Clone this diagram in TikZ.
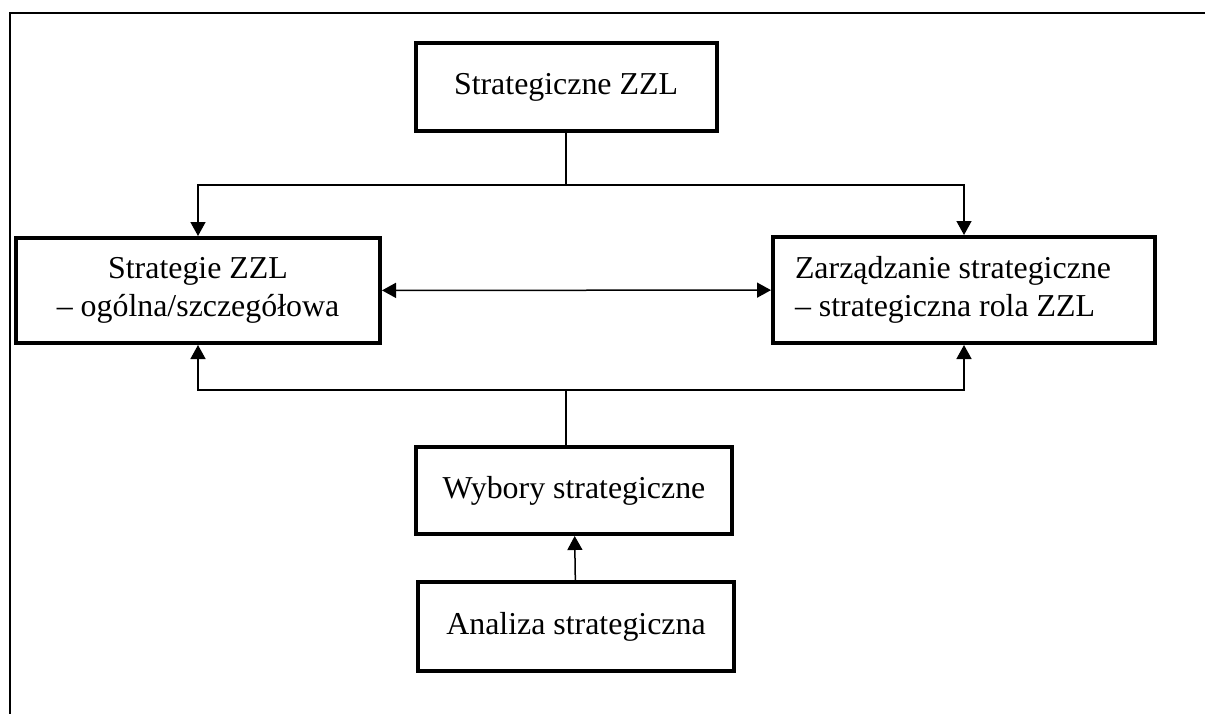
\documentclass[tikz,border=0pt]{standalone}
\usepackage{fontspec}
\setmainfont{Liberation Serif}
\usepackage{tikz}
\usetikzlibrary{arrows.meta,shapes}

\begin{document}
\begin{tikzpicture}[>={Triangle[length=7bp,width=7.5bp]}, every node/.style={font=\fontsize{16}{19}\selectfont},
  box/.style={draw, line width=2bp, inner sep=0pt, align=center},
  link/.style={line width=0.75bp}]
  \useasboundingbox (0bp, 0bp) rectangle (602.5bp, -357bp);
  % Frame
  \draw[line width=0.8bp] (5bp, -357bp) -- (5bp, -6.5bp) -- (602.5bp, -6.5bp);

  % Boxes
  \node (szzl) at (283bp, -43.5bp) [box, minimum width=150.5bp, minimum height=44bp] {Strategiczne ZZL};

  \node (strategie) at (99bp, -145.25bp) [box, minimum width=182bp, minimum height=52.5bp] {Strategie ZZL\\ -- ogólna/szczegółowa};
  \node (zarzadzanie) at (482bp, -145bp) [box, minimum height=53bp, text width=169bp, inner xsep=11bp, align=flush left] {Zarządzanie strategiczne\\ -- strategiczna rola ZZL};

  \node (wybory) at (287bp, -245.25bp) [box, minimum width=158bp, minimum height=43.5bp] {Wybory strategiczne};
  \node (analiza) at (288bp, -313.25bp) [box, minimum width=158bp, minimum height=44.5bp] {Analiza strategiczna};

  % Joints
  \coordinate (topjoin) at (283bp, -92.5bp);
  \coordinate (botjoin) at (283bp, -195bp);

  % Edges
  \draw[link] (szzl) to (topjoin);
  \draw[link, ->] (topjoin) -| (strategie.north);
  \draw[link, ->] (topjoin) -| (zarzadzanie.north);

  \draw[link, <->] (strategie) to (zarzadzanie);

  \draw[link] (botjoin |- wybory.north) to (botjoin);
  \draw[link, ->] (botjoin) -| (strategie.south);
  \draw[link, ->] (botjoin) -| (zarzadzanie.south);

  \draw[link, ->] (analiza) to (wybory);
\end{tikzpicture}
\end{document}
